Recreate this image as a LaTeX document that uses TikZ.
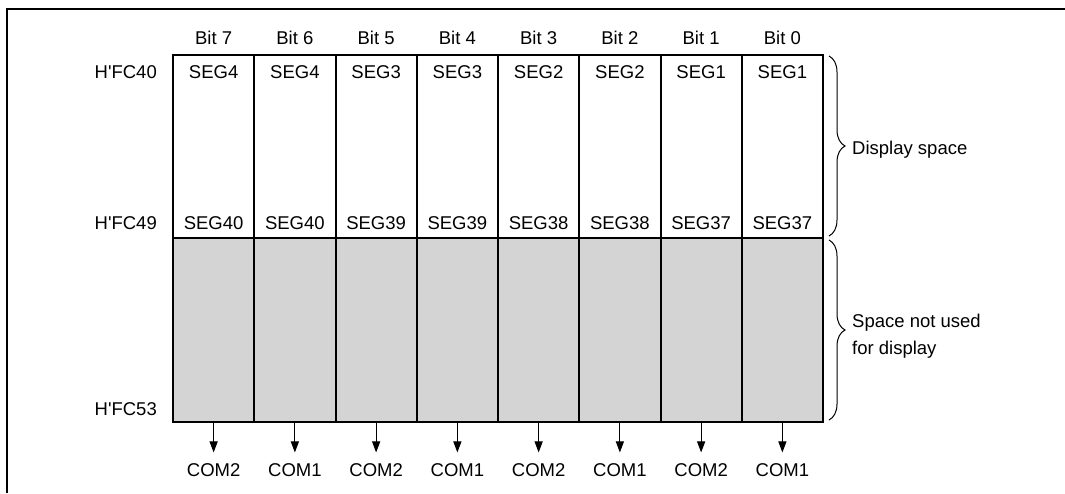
\documentclass[tikz,border=0pt]{standalone}
\usepackage{fontspec}
\setmainfont{Liberation Sans}[Ligatures=TeXOff]
\usetikzlibrary{arrows.meta,decorations.pathreplacing}
\definecolor{unused}{RGB}{212,212,212}

\begin{document}
\begin{tikzpicture}[
  x=1pt,y=-1pt,
  font=\fontsize{18.5}{27}\selectfont,
  >={Triangle[length=11pt,width=8pt]},
  cell/.style={draw, line width=2pt, minimum width=81.25pt, inner sep=0pt},
  lab/.style={inner sep=0pt},
  flow/.style={->, line width=1pt, shorten >=11pt},
  brc/.style={decorate, decoration={brace, amplitude=16pt}, line width=1pt},
]
\useasboundingbox (0,0) rectangle (1065,493);

%% ---------- FRAME ----------
\draw[line width=2pt] (1065,9) -- (7,9) -- (7,493);

%% ---------- MEMORY COLUMNS ----------
\foreach \i/\hi/\lo/\com in {0/SEG4/SEG40/COM2, 1/SEG4/SEG40/COM1,
    2/SEG3/SEG39/COM2, 3/SEG3/SEG39/COM1, 4/SEG2/SEG38/COM2,
    5/SEG2/SEG38/COM1, 6/SEG1/SEG37/COM2, 7/SEG1/SEG37/COM1} {
  \pgfmathtruncatemacro\b{7-\i}
  \node[cell, minimum height=183pt, fill=white] (top\i) at (213.625+81.25*\i,146.5) {};
  \node[cell, minimum height=184pt, fill=unused] (bot\i) at (213.625+81.25*\i,330) {};
  \node[lab, anchor=base] (bit\i) at (213.625+81.25*\i,44) {Bit \b};
  \node[lab, anchor=base] (hi\i) at (213.625+81.25*\i,78.6) {\hi};
  \node[lab, anchor=base] (lo\i) at (213.625+81.25*\i,229.6) {\lo};
  \node[lab, anchor=base] (com\i) at (213.625+81.25*\i,476.6) {\com};
  \draw[flow] (bot\i.south) -- (com\i.north);
}

%% ---------- ADDRESSES ----------
\node[lab, anchor=base east] (a40) at (157,78.6) {H'FC40};
\node[lab, anchor=base east] (a49) at (157,229.6) {H'FC49};
\node[lab, anchor=base east] (a53) at (157,415.6) {H'FC53};

%% ---------- BRACES ----------
\draw[brc] (829,56) -- (829,236);
\node[lab, anchor=base west] (disp) at (852,154) {Display space};
\draw[brc] (829,240) -- (829,420);
\node[lab, anchor=west, align=left] (nodisp) at (852,336) {Space not used\\for display};
\end{tikzpicture}
\end{document}
